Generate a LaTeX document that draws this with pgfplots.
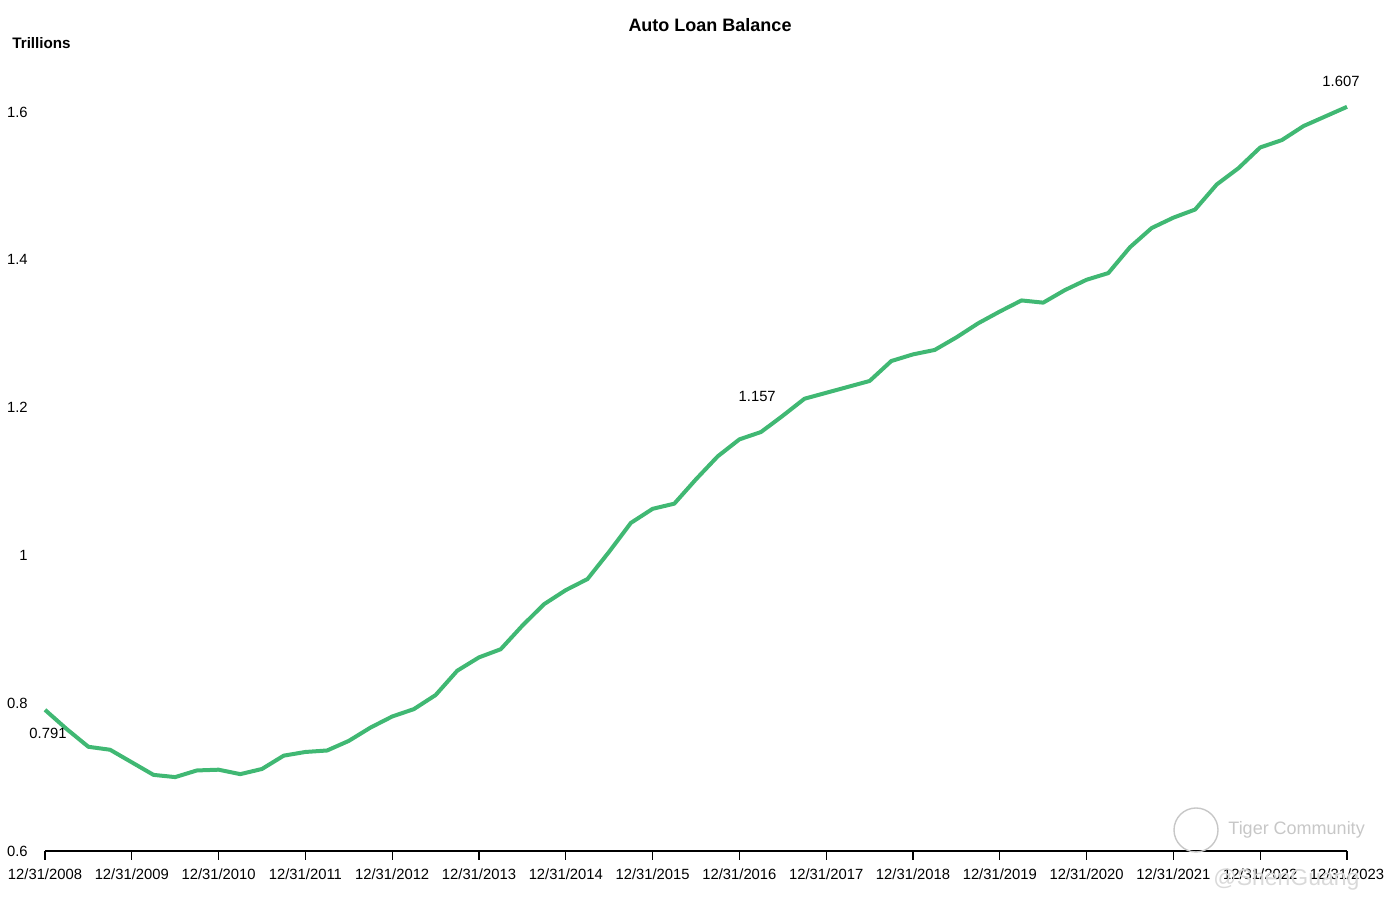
\documentclass[border=0pt]{standalone}
\usepackage{fontspec}
\setmainfont{Liberation Sans}
\usepackage{pgfplots}
\pgfplotsset{compat=1.18}
\definecolor{linegreen}{RGB}{64,184,115}
\begin{document}
\begin{tikzpicture}
\path (-22.5pt,-28.5pt) rectangle (675.5pt,425.5pt);
\begin{axis}[
  scale only axis,
  width=651pt, height=369.5pt,
  xmin=0, xmax=60, ymin=0.6, ymax=1.6,
  clip=false,
  axis x line*=bottom,
  axis y line*=left,
  x axis line style={black, line width=0.6pt},
  y axis line style={draw=none},
  xtick={0,4,...,60},
  xticklabels={12/31/2008,12/31/2009,12/31/2010,12/31/2011,12/31/2012,12/31/2013,12/31/2014,12/31/2015,12/31/2016,12/31/2017,12/31/2018,12/31/2019,12/31/2020,12/31/2021,12/31/2022,12/31/2023},
  x tick style={black, line width=0.6pt, /pgfplots/major tick length=4.5pt},
  y tick style={draw=none, /pgfplots/major tick length=0pt},
  tick align=outside,
  xticklabel style={font=\fontsize{7.4}{8}\selectfont, yshift=-1pt},
  ytick={0.6,0.8,1,1.2,1.4,1.6},
  yticklabels={0.6,0.8,1,1.2,1.4,1.6},
  yticklabel style={font=\fontsize{7.4}{8}\selectfont, anchor=east, xshift=-0.9pt},
]
\addplot[color=linegreen, line width=2pt, line join=round] coordinates {
(0,0.791)(1,0.765)(2,0.741)(3,0.737)(4,0.720)(5,0.703)(6,0.700)(7,0.709)(8,0.710)(9,0.704)
(10,0.711)(11,0.729)(12,0.734)(13,0.736)(14,0.749)(15,0.767)(16,0.782)(17,0.792)(18,0.811)(19,0.844)
(20,0.862)(21,0.873)(22,0.905)(23,0.934)(24,0.953)(25,0.968)(26,1.005)(27,1.044)(28,1.063)(29,1.070)
(30,1.103)(31,1.134)(32,1.157)(33,1.167)(34,1.189)(35,1.212)(36,1.220)(37,1.228)(38,1.236)(39,1.263)
(40,1.272)(41,1.278)(42,1.295)(43,1.314)(44,1.330)(45,1.345)(46,1.342)(47,1.359)(48,1.373)(49,1.382)
(50,1.417)(51,1.443)(52,1.457)(53,1.468)(54,1.502)(55,1.524)(56,1.552)(57,1.562)(58,1.581)(59,1.594)
(60,1.607)};
\node[font=\fontsize{7.4}{8}\selectfont] at ([xshift=1.5pt,yshift=-12pt]axis cs:0,0.791) {0.791};
\node[font=\fontsize{7.4}{8}\selectfont] at ([xshift=8.9pt,yshift=21.3pt]axis cs:32,1.157) {1.157};
\node[font=\fontsize{7.4}{8}\selectfont] at ([xshift=-3pt,yshift=12.8pt]axis cs:60,1.607) {1.607};
\end{axis}
\node[font=\bfseries\fontsize{9}{10}\selectfont] at (332.5pt,413pt) {Auto Loan Balance};
\node[font=\bfseries\fontsize{7.6}{8}\selectfont, anchor=west, inner sep=0pt] at (-16.5pt,404pt) {Trillions};
\draw[black!22, line width=0.7pt] (575.5pt,10.5pt) circle (11pt);
\node[font=\fontsize{9}{10}\selectfont, text=black!22, anchor=west, inner sep=0pt] at (591.5pt,10.5pt) {Tiger Community};
\node[font=\fontsize{11.5}{12}\selectfont, text=black!15, anchor=west, inner sep=0pt] at (584pt,-14.5pt) {@ShenGuang};
\end{tikzpicture}
\end{document}
